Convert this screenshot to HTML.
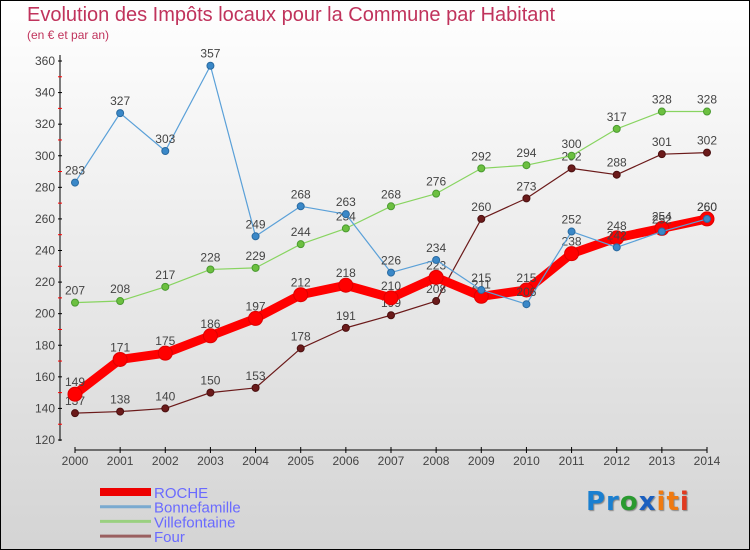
<!DOCTYPE html>
<html><head><meta charset="utf-8"><style>
body{margin:0}
#c{position:relative;width:750px;height:550px;box-sizing:border-box;border:1px solid #000;background:linear-gradient(#fff,#d4d4d4);font-family:"Liberation Sans",sans-serif;overflow:hidden}
.t{position:absolute;left:26px;top:3px;font-size:20px;color:#c0335c}
.s{position:absolute;left:26px;top:27px;font-size:12px;color:#c0335c}
</style></head><body>
<div id="c">
<div class="t">Evolution des Impôts locaux pour la Commune par Habitant</div>
<div class="s">(en € et par an)</div>
<svg id="svg" width="750" height="550" style="position:absolute;left:-1px;top:-1px"></svg>
<div style="position:absolute;left:585px;top:486px;font-size:26px;font-weight:bold;font-family:'DejaVu Sans',sans-serif;letter-spacing:1px;text-shadow:1px 1px 1px #888"><span style="color:#1a7fd0">Pr</span><span style="color:#2a9a30">o</span><span style="color:#1a5fc0">x</span><span style="color:#f07a10">it</span><span style="color:#e03a20">i</span></div>
</div>
<script>
const years=[2000,2001,2002,2003,2004,2005,2006,2007,2008,2009,2010,2011,2012,2013,2014];
const roche=[149,171,175,186,197,212,218,210,223,211,215,238,248,254,260];
const bonnefamille=[283,327,303,357,249,268,263,226,234,215,206,252,242,252,260];
const villefontaine=[207,208,217,228,229,244,254,268,276,292,294,300,317,328,328];
const four=[137,138,140,150,153,178,191,199,208,260,273,292,288,301,302];
const yTicks=[120,140,160,180,200,220,240,260,280,300,320,340,360];
const NS="http://www.w3.org/2000/svg";
const svg=document.getElementById('svg');
const x=i=>75+i*(632/14);
const y=v=>440-(v-120)*(379/240);
function el(t,a,p){const e=document.createElementNS(NS,t);for(const k in a)e.setAttribute(k,a[k]);(p||svg).appendChild(e);return e;}
let ax=el('line',{x1:60,y1:55,x2:60,y2:441,stroke:'#000','stroke-width':1});


yTicks.forEach((v,i)=>{
 el('line',{x1:58,x2:62,y1:y(v),y2:y(v),stroke:'#000'});
 if(i<yTicks.length-1){el('line',{x1:58,x2:62,y1:y(v+10),y2:y(v+10),stroke:'#f00'});}
 const t=el('text',{x:55,y:y(v)+4,'text-anchor':'end','font-size':12,fill:'#444'});t.textContent=v;
 
 
});
let xa=el('line',{x1:75,y1:450,x2:707,y2:450,stroke:'#000'});


years.forEach((yr,i)=>{
 el('line',{x1:x(i),x2:x(i),y1:447,y2:453,stroke:'#000'});
 const t=el('text',{x:x(i),y:465,'text-anchor':'middle','font-size':12,fill:'#444'});t.textContent=yr;
 
 
});
function series(name,vals,color,w,r,ptColor,stroke){
 const g=el('g',{});
 
 
 el('polyline',{points:vals.map((v,i)=>x(i)+','+y(v)).join(' '),fill:'none',stroke:color,'stroke-width':w,'stroke-linejoin':'round'},g);
 vals.forEach((v,i)=>{
  const c=el('circle',{cx:x(i),cy:y(v),r:r,fill:ptColor,stroke:stroke,'stroke-width':1},g);
  
  
  const t=el('text',{x:x(i),y:y(v)-8,'text-anchor':'middle','font-size':12,fill:'#444'},g);t.textContent=v;
  
  
 });
}
series('four',four,'#6b1a1a',1.2,3.5,'#6b1a1a','#4a1010');
series('villefontaine',villefontaine,'#88d460',1.2,3.5,'#6cc040','#4a9a30');
series('roche',roche,'#f00',9,7,'#f00','#d00');
series('bonnefamille',bonnefamille,'#5aa0d8',1.2,3.5,'#3a88c8','#2a6aa0');
const leg=[['ROCHE','#e00',8],['Bonnefamille','#7aaad0',3],['Villefontaine','#9ad080',3],['Four','#9a6060',3]];
leg.forEach((l,i)=>{
 const g=el('g',{});
 
 
 const yy=492+i*14.7;
 el('line',{x1:100,x2:151,y1:yy,y2:yy,stroke:l[1],'stroke-width':l[2]},g);
 const t=el('text',{x:154,y:yy+6,'font-size':15,fill:'#6a6aff'},g);t.textContent=l[0];
});
</script>
</body></html>
